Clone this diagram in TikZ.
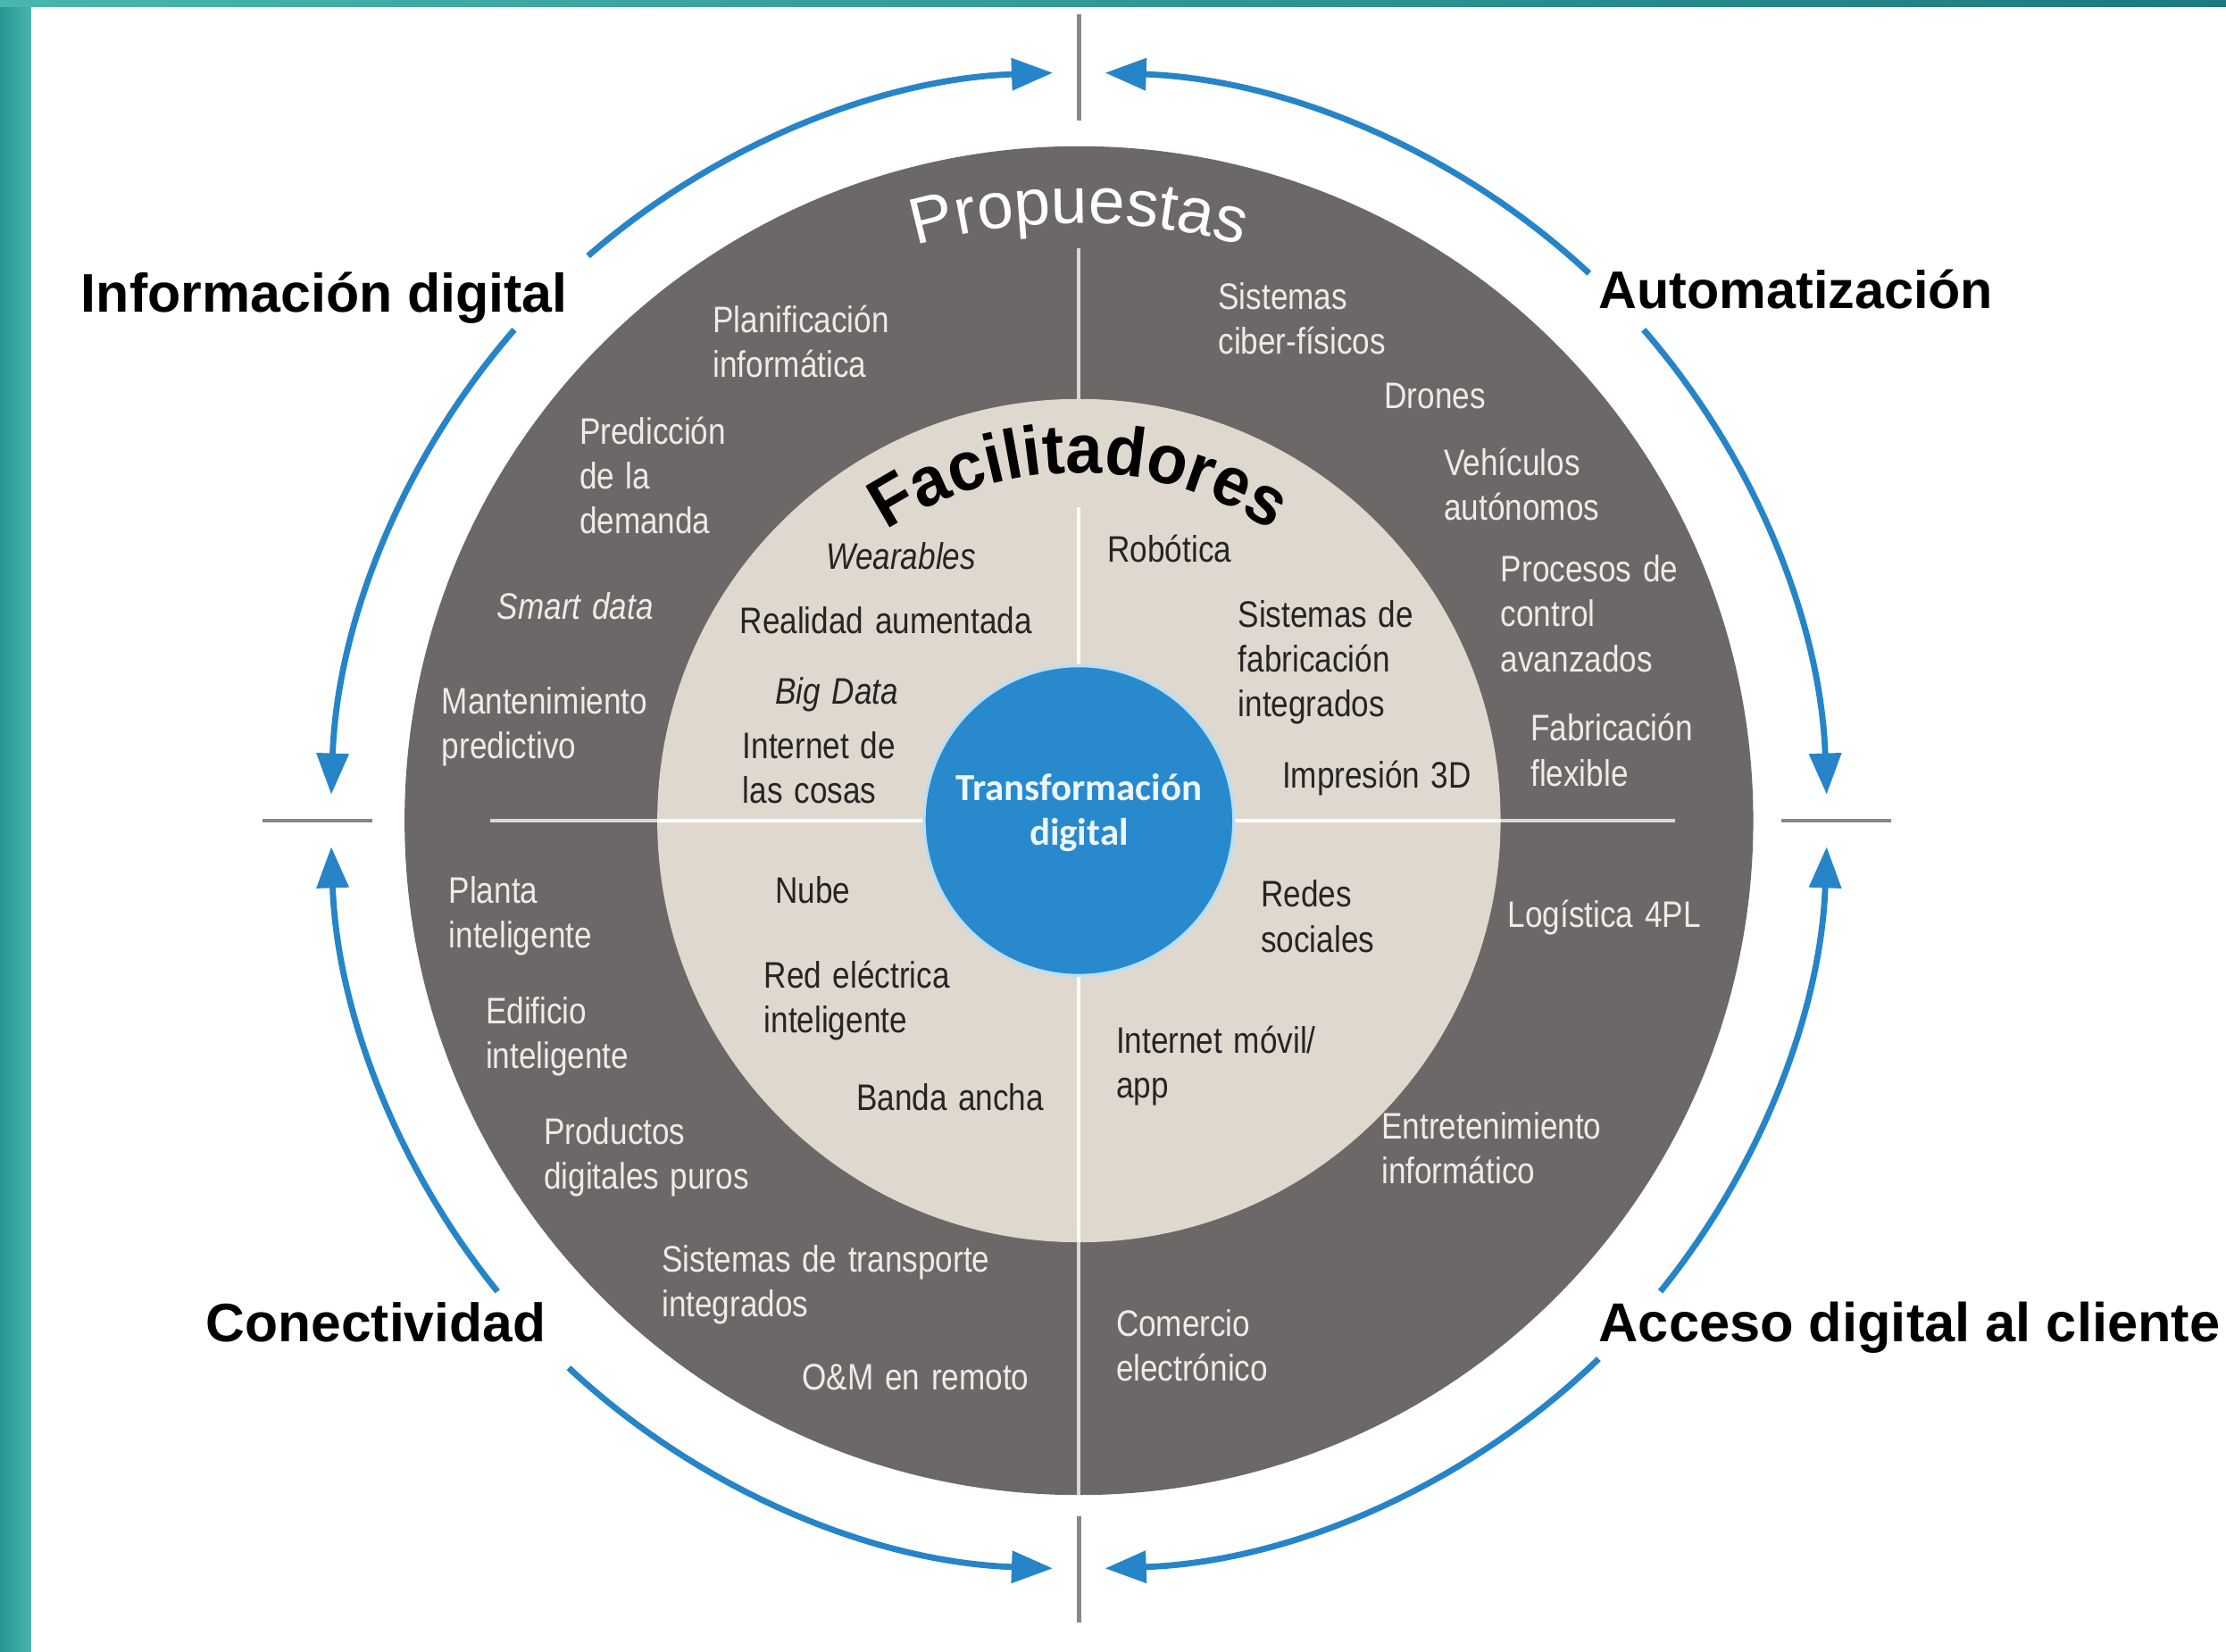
\documentclass[tikz,border=0pt]{standalone}
\usepackage{fontspec}
\setmainfont{Liberation Sans}
\newfontfamily\ringfont[FakeStretch=0.85,WordSpace=1.3]{Liberation Sans}
\newfontfamily\facfont[FakeStretch=0.95]{Liberation Sans}
\newfontfamily\corefont{Carlito}
\usetikzlibrary{arrows.meta,decorations.text}
\definecolor{ringgray}{RGB}{107,104,103}
\definecolor{beige}{RGB}{223,216,207}
\definecolor{coreblue}{RGB}{40,137,205}
\definecolor{coreedge}{RGB}{185,222,245}
\definecolor{arcblue}{RGB}{38,132,200}
\definecolor{tickgray}{RGB}{135,135,135}
\definecolor{lighttext}{RGB}{238,235,232}
\definecolor{darktext}{RGB}{38,36,35}
\definecolor{corewhite}{RGB}{236,246,252}
\definecolor{teala}{RGB}{38,150,146}
\definecolor{tealb}{RGB}{72,182,172}
\definecolor{tealc}{RGB}{28,122,126}
\newcommand{\mylines}[1]{\begin{tabular}[t]{@{}l@{}}#1\end{tabular}}
\newcommand{\mycentered}[1]{\begin{tabular}[t]{@{}c@{}}#1\end{tabular}}
\begin{document}
\begin{tikzpicture}[x=1pt,y=1pt,
  ringtext/.style={font=\ringfont\fontsize{26}{31.5}\selectfont, text=lighttext, inner sep=0pt, anchor=base west},
  coretext/.style={ringtext, text=darktext},
  outerlabel/.style={font=\bfseries\fontsize{#1}{#1}\selectfont, text=black, inner sep=0pt, anchor=base west},
  arcarrow/.style={draw=arcblue, line width=4.3pt, -{Triangle[length=29pt,width=22pt]}},
  tickline/.style={draw=tickgray, line width=3pt},
  crossline/.style={draw=#1, line width=2.5pt},
]
\useasboundingbox (0,0) rectangle (1568,1163);
\fill[white] (0,0) rectangle (1568,1163);
\shade[left color=teala, right color=tealb] (0,0) rectangle (22,1163);
\shade[left color=tealb, right color=tealc] (0,1158) rectangle (1568,1163);
\coordinate (C) at (760,585);

% rings
\node[circle, fill=ringgray, minimum size=950pt, inner sep=0pt] (ring) at (C) {};
\draw[crossline=lighttext!85!ringgray] (760,988) -- (760,110);
\draw[crossline=lighttext!85!ringgray] (345,585) -- (1180,585);
\node[circle, fill=beige, minimum size=594pt, inner sep=0pt] (inner) at (C) {};
\draw[crossline=white] (760,806) -- (760,288);
\draw[crossline=white] (463,585) -- (1057,585);
\node[circle, fill=coreblue, draw=coreedge, line width=2pt, minimum size=218pt, inner sep=0pt] (core) at (C) {};
\node[font=\corefont\bfseries\fontsize{27}{31}\selectfont, text=corewhite, inner sep=0pt, anchor=base] (coretitle) at (760,599) {\mycentered{Transformación\\digital}};

% curved titles
\path[decorate, decoration={text along path, text={|\fontsize{46}{46}\selectfont|Propuestas}, text align=center, text color=white}]
  ([shift={(130:421)}]C) arc[start angle=130, end angle=50, radius=421];
\path[decorate, decoration={text along path, text={|\facfont\bfseries\fontsize{49}{49}\selectfont|Facilitadores}, text align=center, text color=black}]
  ([shift={(150:245)}]C) arc[start angle=150, end angle=30, radius=245];

% outer ticks
\draw[tickline] (760,1153) -- (760,1078);
\draw[tickline] (760,95) -- (760,20);
\draw[tickline] (185,585) -- (262,585);
\draw[tickline] (1255,585) -- (1332,585);

% blue arcs
\coordinate (a1) at ([shift={(131:527)}]C);
\coordinate (a2) at ([shift={(139:527)}]C);
\coordinate (a3) at ([shift={(219:527)}]C);
\coordinate (a4) at ([shift={(227:527)}]C);
\coordinate (a5) at ([shift={(314:527)}]C);
\coordinate (a6) at ([shift={(321:527)}]C);
\coordinate (a7) at ([shift={(41:527)}]C);
\coordinate (a8) at ([shift={(47:527)}]C);
\draw[arcarrow] (a1) arc[start angle=131, end angle=92, radius=527];
\draw[arcarrow] (a2) arc[start angle=139, end angle=178, radius=527];
\draw[arcarrow] (a3) arc[start angle=219, end angle=182, radius=527];
\draw[arcarrow] (a4) arc[start angle=227, end angle=268, radius=527];
\draw[arcarrow] (a5) arc[start angle=314, end angle=272, radius=527];
\draw[arcarrow] (a6) arc[start angle=321, end angle=358, radius=527];
\draw[arcarrow] (a7) arc[start angle=41, end angle=2, radius=527];
\draw[arcarrow] (a8) arc[start angle=47, end angle=88, radius=527];

% outer labels
\node[outerlabel=38.3] (info) at (57,943) {Información digital};
\node[outerlabel=37.3] (auto) at (1126,946) {Automatización};
\node[outerlabel=38.1] (conec) at (145,218) {Conectividad};
\node[outerlabel=38.6] (acceso) at (1126,218) {Acceso digital al cliente};

% gray ring texts
\node[ringtext] (planif) at (502,929) {\mylines{Planificación\\informática}};
\node[ringtext] (predic) at (408,850) {\mylines{Predicción\\de la\\demanda}};
\node[ringtext] (smart) at (350,727) {\itshape Smart data};
\node[ringtext] (mant) at (311,660) {\mylines{Mantenimiento\\predictivo}};
\node[ringtext] (ciber) at (858,945) {\mylines{Sistemas\\ciber-físicos}};
\node[ringtext] (drones) at (975,875) {Drones};
\node[ringtext] (vehic) at (1017,828) {\mylines{Vehículos\\autónomos}};
\node[ringtext] (proc) at (1057,753) {\mylines{Procesos de\\control\\avanzados}};
\node[ringtext] (fabflex) at (1078,641) {\mylines{Fabricación\\flexible}};
\node[ringtext] (logis) at (1062,510) {Logística 4PL};
\node[ringtext] (entret) at (973,361) {\mylines{Entretenimiento\\informático}};
\node[ringtext] (comer) at (786,222) {\mylines{Comercio\\electrónico}};
\node[ringtext] (planta) at (316,527) {\mylines{Planta\\inteligente}};
\node[ringtext] (edif) at (342,442) {\mylines{Edificio\\inteligente}};
\node[ringtext] (prod) at (383,357) {\mylines{Productos\\digitales puros}};
\node[ringtext] (transp) at (466,267) {\mylines{Sistemas de transporte\\integrados}};
\node[ringtext] (om) at (565,184) {O\&M en remoto};

% beige ring texts
\node[coretext] (wear) at (582,762) {\itshape Wearables};
\node[coretext] (realidad) at (521,717) {Realidad aumentada};
\node[coretext] (bigdata) at (546,667) {\itshape Big Data};
\node[coretext] (iot) at (523,629) {\mylines{Internet de\\las cosas}};
\node[coretext] (robot) at (780,767) {Robótica};
\node[coretext] (sisfab) at (872,721) {\mylines{Sistemas de\\fabricación\\integrados}};
\node[coretext] (imp3d) at (903,608) {Impresión 3D};
\node[coretext] (nube) at (546,527) {Nube};
\node[coretext] (redel) at (538,467) {\mylines{Red eléctrica\\inteligente}};
\node[coretext] (banda) at (603,381) {Banda ancha};
\node[coretext] (redes) at (888,524) {\mylines{Redes\\sociales}};
\node[coretext] (movil) at (786,421) {\mylines{Internet móvil/\\app}};
\end{tikzpicture}
\end{document}
